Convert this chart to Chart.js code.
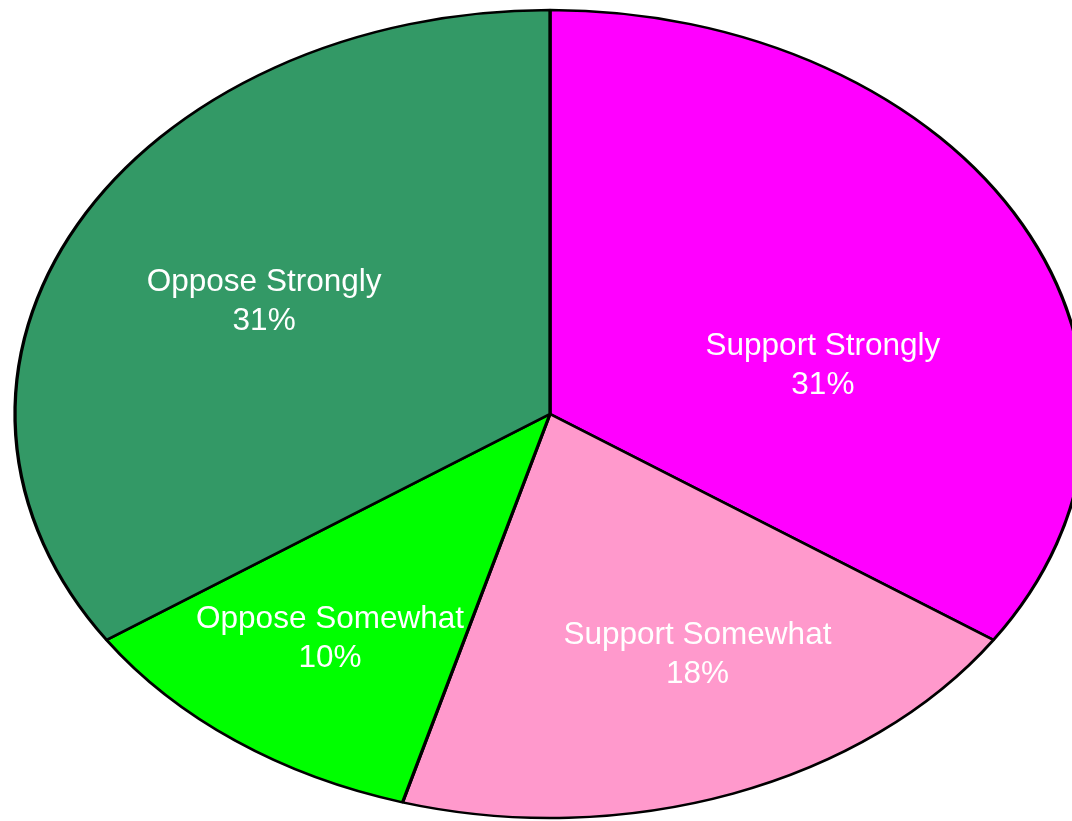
<!DOCTYPE html>
<html>
<head>
<meta charset="utf-8">
<script src="https://cdn.jsdelivr.net/npm/chart.js@4/dist/chart.umd.min.js"></script>
<style>
  html, body { margin: 0; padding: 0; background: #fff; }
  #wrap { width: 1072px; height: 821px; }
</style>
</head>
<body>
<div id="wrap"><canvas id="pieChart" width="1072" height="821"></canvas></div>
<script>
const labels = ["Support Strongly", "Support Somewhat", "Oppose Somewhat", "Oppose Strongly"];
const percents = [31, 18, 10, 31];
const colors = ["#FF00FF", "#FF99CC", "#00FF00", "#339966"];

// the reference pie is stretched sideways into an ellipse
const stretchX = 535 / 404;

const ellipsePlugin = {
  id: "ellipse",
  beforeDatasetsDraw(chart) {
    const arc = chart.getDatasetMeta(0).data[0];
    const ctx = chart.ctx;
    ctx.save();
    ctx.translate(arc.x, arc.y);
    ctx.scale(stretchX, 1);
    ctx.translate(-arc.x, -arc.y);
  },
  afterDatasetsDraw(chart) {
    chart.ctx.restore();
  },
};

// labels placed inside each slice, nudged like the original
const sliceLabels = {
  id: "sliceLabels",
  afterDraw(chart, args, opts) {
    const ctx = chart.ctx;
    const meta = chart.getDatasetMeta(0);
    ctx.save();
    ctx.fillStyle = "#fff";
    ctx.font = "31.5px 'Liberation Sans', Arial, sans-serif";
    ctx.textAlign = "center";
    ctx.textBaseline = "middle";
    meta.data.forEach((arc, i) => {
      const mid = (arc.startAngle + arc.endAngle) / 2;
      const r = arc.outerRadius * 0.62;
      const nudge = opts.nudge[i];
      const x = arc.x + Math.cos(mid) * r * stretchX + nudge[0];
      const y = arc.y + Math.sin(mid) * r + nudge[1];
      ctx.fillText(labels[i], x, y - 19.5);
      ctx.fillText(percents[i] + "%", x, y + 19.5);
    });
    ctx.restore();
  },
};

new Chart(document.getElementById("pieChart"), {
  type: "pie",
  data: {
    labels: labels,
    datasets: [
      {
        data: percents,
        backgroundColor: colors,
        borderColor: "#000",
        borderWidth: 2.5,
        hoverOffset: 0,
        clip: false,
      },
    ],
  },
  options: {
    responsive: false,
    animation: false,
    radius: 404,
    layout: { padding: { left: 28, right: 0, top: 10, bottom: 3 } },
    plugins: {
      legend: { display: false },
      tooltip: { enabled: false },
      sliceLabels: { nudge: [[-20, 69], [34, 5], [-25, 22], [7, 5]] },
    },
  },
  plugins: [ellipsePlugin, sliceLabels],
});
</script>
</body>
</html>
